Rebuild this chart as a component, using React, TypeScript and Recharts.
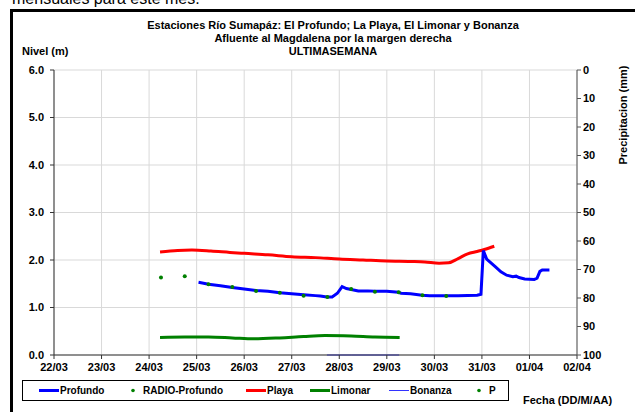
import React from "react";
import { ComposedChart, Line, XAxis, YAxis, CartesianGrid } from "recharts";

// dias desde 22/03 00:00
const dayLabels = ["22/03", "23/03", "24/03", "25/03", "26/03", "27/03", "28/03", "29/03", "30/03", "31/03", "01/04", "02/04"];
const dayTicks = [0, 1, 2, 3, 4, 5, 6, 7, 8, 9, 10, 11];
const nivelTicks = [0, 1, 2, 3, 4, 5, 6];
const precTicks = [0, 10, 20, 30, 40, 50, 60, 70, 80, 90, 100];

const profundoT = [3.04, 3.25, 3.5, 3.75, 4.0, 4.25, 4.5, 4.75, 5.0, 5.25, 5.5, 5.6, 5.74, 5.85, 5.96, 6.06, 6.15, 6.25, 6.4, 6.6, 6.75, 7.0, 7.24, 7.3, 7.5, 7.74, 7.9, 8.25, 8.5, 8.9, 8.98, 9.03, 9.1, 9.28, 9.4, 9.52, 9.65, 9.72, 9.78, 9.9, 10.1, 10.16, 10.22, 10.27, 10.42];
const profundoV = [1.53, 1.49, 1.46, 1.42, 1.39, 1.36, 1.34, 1.31, 1.29, 1.27, 1.25, 1.24, 1.22, 1.22, 1.3, 1.44, 1.4, 1.38, 1.35, 1.35, 1.34, 1.34, 1.32, 1.3, 1.29, 1.26, 1.25, 1.25, 1.25, 1.26, 1.28, 2.2, 2.02, 1.86, 1.75, 1.68, 1.65, 1.66, 1.63, 1.6, 1.59, 1.62, 1.76, 1.79, 1.79];

const radioT = [2.25, 2.75, 3.25, 3.75, 4.25, 4.75, 5.25, 5.75, 6.25, 6.75, 7.25, 7.75, 8.25];
const radioV = [1.63, 1.66, 1.49, 1.43, 1.35, 1.31, 1.25, 1.22, 1.39, 1.33, 1.32, 1.26, 1.24];

const playaT = [2.23, 2.6, 2.9, 3.3, 3.7, 4.0, 4.5, 5.0, 5.5, 6.0, 6.5, 7.0, 7.5, 7.8, 8.1, 8.3, 8.5, 8.7, 8.9, 9.05, 9.26];
const playaV = [2.17, 2.2, 2.21, 2.19, 2.16, 2.14, 2.11, 2.07, 2.05, 2.02, 2.0, 1.98, 1.97, 1.96, 1.93, 1.94, 2.03, 2.13, 2.18, 2.22, 2.29];

const limonarT = [2.23, 2.75, 3.25, 3.75, 4.2, 4.75, 5.25, 5.7, 6.25, 6.75, 7.27];
const limonarV = [0.37, 0.38, 0.38, 0.36, 0.34, 0.36, 0.39, 0.41, 0.4, 0.38, 0.37];

const bonanzaT = [5.74, 6.25, 6.75, 7.26];
const bonanzaV = [0, 0, 0, 0];

// sin lluvia registrada en la semana
const pT: number[] = [];
const pV: number[] = [];

const zip = (t: number[], v: number[]) => t.map((x, i) => ({ t: x, v: v[i] }));

const font = "'Liberation Sans', Arial, sans-serif";

const legendItems = [
  { name: "Profundo", kind: "line", color: "#0000FF", w: 3, x: 39 },
  { name: "RADIO-Profundo", kind: "dot", color: "#008000", w: 0, x: 128 },
  { name: "Playa", kind: "line", color: "#FF0000", w: 3, x: 246 },
  { name: "Limonar", kind: "line", color: "#008000", w: 3, x: 310 },
  { name: "Bonanza", kind: "line", color: "#3333FF", w: 1, x: 389 },
  { name: "P", kind: "dot", color: "#008000", w: 0, x: 474 },
];

export default function App() {
  const tickStyle = { fontSize: 11, fontWeight: 700, fill: "#000", fontFamily: font };
  return (
    <div style={{ position: "absolute", left: 0, top: 0, width: 635, height: 412, overflow: "hidden", background: "#fff", fontFamily: font }}>
      <div style={{ position: "absolute", left: 12, top: -10, fontSize: 16, whiteSpace: "nowrap" }}>mensuales para este mes.</div>
      <div style={{ position: "absolute", left: 10, top: 9, width: 630, height: 410, border: "3px solid #000", boxSizing: "border-box" }} />
      <div style={{ position: "absolute", left: 0, top: 0 }}>
        <ComposedChart width={635} height={412} margin={{ top: 70, left: 14, right: 18, bottom: 37 }}>
          <CartesianGrid yAxisId="lvl" stroke="#D9D9D9" strokeWidth={1} />
          <XAxis
            type="number"
            dataKey="t"
            domain={[0, 11]}
            ticks={dayTicks}
            tickFormatter={(v: number) => dayLabels[v]}
            tick={tickStyle}
            tickSize={4}
            tickMargin={4}
            height={20}
            stroke="#333"
            interval={0}
          />
          <YAxis
            yAxisId="lvl"
            domain={[0, 6]}
            ticks={nivelTicks}
            tickFormatter={(v: number) => v.toFixed(1)}
            tick={tickStyle}
            tickSize={4}
            tickMargin={6}
            width={40}
            stroke="#333"
            interval={0}
          />
          <YAxis
            yAxisId="pp"
            type="number"
            orientation="right"
            reversed
            domain={[0, 100]}
            allowDataOverflow
            ticks={precTicks}
            tick={tickStyle}
            tickSize={4}
            tickMargin={2}
            width={40}
            stroke="#555"
            interval={0}
          />
          <Line yAxisId="lvl" data={zip(limonarT, limonarV)} dataKey="v" type="monotone" stroke="#008000" strokeWidth={3} dot={false} isAnimationActive={false} />
          <Line yAxisId="lvl" data={zip(playaT, playaV)} dataKey="v" type="monotone" stroke="#FF0000" strokeWidth={3} dot={false} isAnimationActive={false} />
          <Line yAxisId="lvl" data={zip(bonanzaT, bonanzaV)} dataKey="v" type="linear" stroke="#3333FF" strokeWidth={1} dot={false} isAnimationActive={false} />
          <Line yAxisId="lvl" data={zip(profundoT, profundoV)} dataKey="v" type="linear" stroke="#0000FF" strokeWidth={3} dot={false} isAnimationActive={false} />
          <Line yAxisId="lvl" data={zip(radioT, radioV)} dataKey="v" stroke="none" dot={{ r: 2, fill: "#008000", stroke: "none" }} isAnimationActive={false} />
          <Line yAxisId="pp" data={zip(pT, pV)} dataKey="v" stroke="none" dot={{ r: 1.5, fill: "#008000", stroke: "none" }} isAnimationActive={false} />
        </ComposedChart>
      </div>
      <svg width={635} height={412} style={{ position: "absolute", left: 0, top: 0, pointerEvents: "none" }} fontFamily={font} fontWeight={700} fontSize={11}>
        <text x={333} y={29} textAnchor="middle">Estaciones Río Sumapáz: El Profundo; La Playa, El Limonar y Bonanza</text>
        <text x={333} y={42} textAnchor="middle">Afluente al Magdalena por la margen derecha</text>
        <text x={333} y={55} textAnchor="middle">ULTIMASEMANA</text>
        <text x={22} y={55}>Nivel (m)</text>
        <text transform="translate(627,115) rotate(-90)" textAnchor="middle">Precipitacion (mm)</text>
        <text x={523} y={404}>Fecha (DD/M/AA)</text>
        <rect x={22.5} y={380.5} width={486} height={20} fill="#fff" stroke="#000" strokeWidth={1} />
        {legendItems.map((it) => (
          <g key={it.name} fontSize={10}>
            {it.kind === "line" ? (
              <line x1={it.x} x2={it.x + 20} y1={390.5} y2={390.5} stroke={it.color} strokeWidth={it.w} />
            ) : (
              <circle cx={it.x + 5} cy={390.5} r={1.8} fill={it.color} />
            )}
            <text x={it.kind === "line" ? it.x + 21 : it.x + 15} y={394}>{it.name}</text>
          </g>
        ))}
      </svg>
    </div>
  );
}
